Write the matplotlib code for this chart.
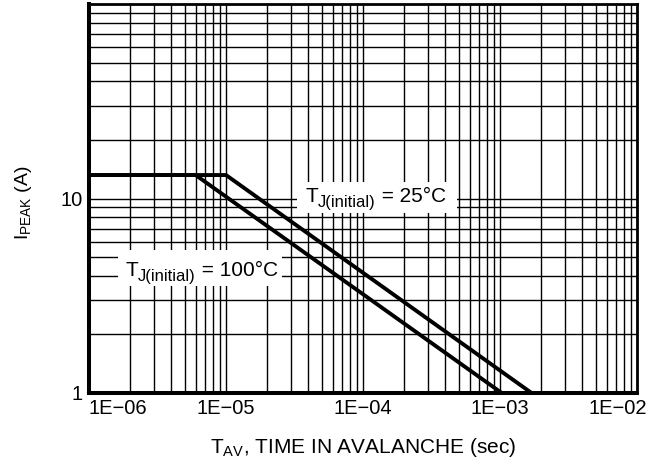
import matplotlib
matplotlib.use("Agg")
import matplotlib.pyplot as plt
from matplotlib.ticker import LogLocator, NullFormatter
from matplotlib.transforms import ScaledTranslation, IdentityTransform
from matplotlib.patches import Rectangle

plt.rcParams['font.family'] = ['Liberation Sans', 'DejaVu Sans']

# Data
t_25 = [1e-6, 1e-5, 1.7e-3]
i_25 = [13.2, 13.2, 1.0]
t_100 = [1e-6, 6.0e-6, 1.03e-3]
i_100 = [13.2, 13.2, 1.0]
xticks = [1e-6, 1e-5, 1e-4, 1e-3, 1e-2]
xtick_labels = ["1E\u221206", "1E\u221205", "1E\u221204", "1E\u221203", "1E\u221202"]
yticks = [1, 10]
ytick_labels = ["1", "10"]

W, H = 662, 466
fig = plt.figure(figsize=(W / 100, H / 100), dpi=100)
ax = fig.add_axes([89 / W, 73 / H, (637 - 89) / W, (393 - 4) / H])
ax.set_xscale('log')
ax.set_yscale('log')
ax.set_xlim(1e-6, 1e-2)
ax.set_ylim(1, 100)

ax.xaxis.set_minor_locator(LogLocator(base=10, subs=range(2, 10), numticks=100))
ax.yaxis.set_minor_locator(LogLocator(base=10, subs=range(2, 10), numticks=100))
ax.xaxis.set_minor_formatter(NullFormatter())
ax.yaxis.set_minor_formatter(NullFormatter())
ax.grid(True, which='both', color='black', linewidth=1.0)
ax.set_axisbelow(True)

ax.set_xticks(xticks)
ax.set_xticklabels(xtick_labels)
ax.set_yticks(yticks)
ax.set_yticklabels(ytick_labels)
ax.tick_params(which='both', length=0, labelsize=14.5)
ax.tick_params(axis='x', pad=4)
ax.tick_params(axis='y', pad=4.5)
labs = ax.get_xticklabels()
labs[0].set_horizontalalignment('left')
labs[0].set_transform(labs[0].get_transform() + ScaledTranslation(-1 / 100, 0, fig.dpi_scale_trans))
labs[-1].set_transform(labs[-1].get_transform() + ScaledTranslation(-19.5 / 100, 0, fig.dpi_scale_trans))

ax.plot(t_25, i_25, color='black', linewidth=2.8, solid_joinstyle='miter', zorder=5)
ax.plot(t_100, i_100, color='black', linewidth=2.8, solid_joinstyle='miter', zorder=5)

for s in ['left', 'bottom']:
    ax.spines[s].set_linewidth(2.9)
for s in ['top', 'right']:
    ax.spines[s].set_linewidth(2.0)

# annotation boxes and composed subscript labels
renderer = fig.canvas.get_renderer()


def sub_label(x, y, box, main1, sub, main2, fs=15, sfs=12, drop=4.5):
    bx0, by0, bx1, by1 = box
    fig.patches.append(Rectangle((bx0 / W, 1 - by1 / H), (bx1 - bx0) / W, (by1 - by0) / H,
                                 transform=fig.transFigure, facecolor='white',
                                 edgecolor='none', zorder=2))
    cx = x
    for s, f, dy in [(main1, fs, 0), (sub, sfs, drop), (main2, fs, 0)]:
        t = fig.text(cx, H - y - dy, s, fontsize=f, ha='left', va='baseline',
                     transform=IdentityTransform(), zorder=3)
        cx += t.get_window_extent(renderer).width


sub_label(305, 202, (297, 182, 457, 213), "T", "J(initial)", " = 25°C")
sub_label(125, 276, (118, 250, 282, 286), "T", "J(initial)", " = 100°C")

ax.set_xlabel(r"T$_{\mathregular{AV}}$, TIME IN AVALANCHE (sec)", fontsize=15)
ax.xaxis.set_label_coords(0.5, (393 - 436) / 389)
ax.set_ylabel(r"I$_{\mathregular{PEAK}}$ (A)", fontsize=14)
ax.yaxis.set_label_coords((34 - 89) / 548, (393 - 203) / 389)

fig.savefig("out.png", dpi=100)
